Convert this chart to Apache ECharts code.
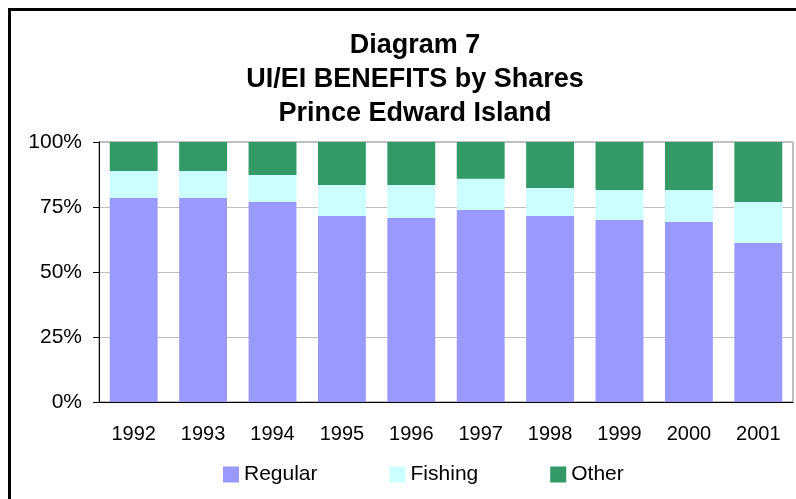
<!DOCTYPE html>
<html>
<head>
<meta charset="utf-8">
<script src="https://cdn.jsdelivr.net/npm/echarts@6/dist/echarts.min.js"></script>
<style>
  html, body { margin: 0; padding: 0; background: #fff; }
  #chart { width: 796px; height: 499px; }
</style>
</head>
<body>
<div id="chart"></div>
<script>
var years = ['1992', '1993', '1994', '1995', '1996', '1997', '1998', '1999', '2000', '2001'];
var regular = [78.6, 78.6, 76.9, 71.5, 70.8, 73.8, 71.5, 70.0, 69.2, 61.2];
var fishing = [10.2, 10.2, 10.4, 12.0, 12.7, 12.1, 10.8, 11.5, 12.3, 15.7];
var other = [11.2, 11.2, 12.7, 16.5, 16.5, 14.1, 17.7, 18.5, 18.5, 23.1];
var yTicks = [0, 25, 50, 75, 100];

var font = '"Liberation Sans", Arial, sans-serif';
var chart = echarts.init(document.getElementById('chart'));

function barSeries(name, data, color) {
    return {
        name: name,
        type: 'bar',
        stack: 'share',
        data: data,
        barCategoryGap: '31%',
        itemStyle: { color: color },
        emphasis: { disabled: true }
    };
}

chart.setOption({
    animation: false,
    textStyle: { fontFamily: font },
    graphic: [
        {
            type: 'rect',
            shape: { x: 9.5, y: 9.5, width: 900, height: 600 },
            style: { fill: 'none', stroke: '#000', lineWidth: 3 },
            z: 100
        },
        {
            type: 'text',
            x: 415,
            y: 29,
            style: {
                text: 'Diagram 7\nUI/EI BENEFITS by Shares\nPrince Edward Island',
                font: 'bold 27px ' + font,
                fill: '#000',
                textAlign: 'center',
                textVerticalAlign: 'top',
                lineHeight: 34
            }
        }
    ],
    grid: {
        left: 99, right: 3, top: 142, bottom: 97,
        show: true, borderColor: '#808080', borderWidth: 1
    },
    legend: {
        left: 218,
        top: 459,
        itemWidth: 16,
        itemHeight: 16,
        itemGap: 72,
        icon: 'rect',
        textStyle: { fontSize: 21, color: '#000' },
        data: ['Regular', 'Fishing', 'Other']
    },
    xAxis: {
        type: 'category',
        data: years,
        axisLine: { lineStyle: { color: '#000' } },
        axisTick: { length: 6, lineStyle: { color: '#000' } },
        axisLabel: { fontSize: 20, color: '#000', margin: 22 }
    },
    yAxis: {
        type: 'value',
        min: yTicks[0],
        max: yTicks[yTicks.length - 1],
        interval: 25,
        axisLine: { show: true, lineStyle: { color: '#000' } },
        axisTick: { show: true, length: 6, lineStyle: { color: '#000' } },
        axisLabel: { fontSize: 21, color: '#000', margin: 17, formatter: '{value}%' },
        splitLine: { lineStyle: { color: '#c0c0c0' } }
    },
    series: [
        barSeries('Regular', regular, '#9999ff'),
        barSeries('Fishing', fishing, '#ccffff'),
        barSeries('Other', other, '#339966')
    ]
});
</script>
</body>
</html>
